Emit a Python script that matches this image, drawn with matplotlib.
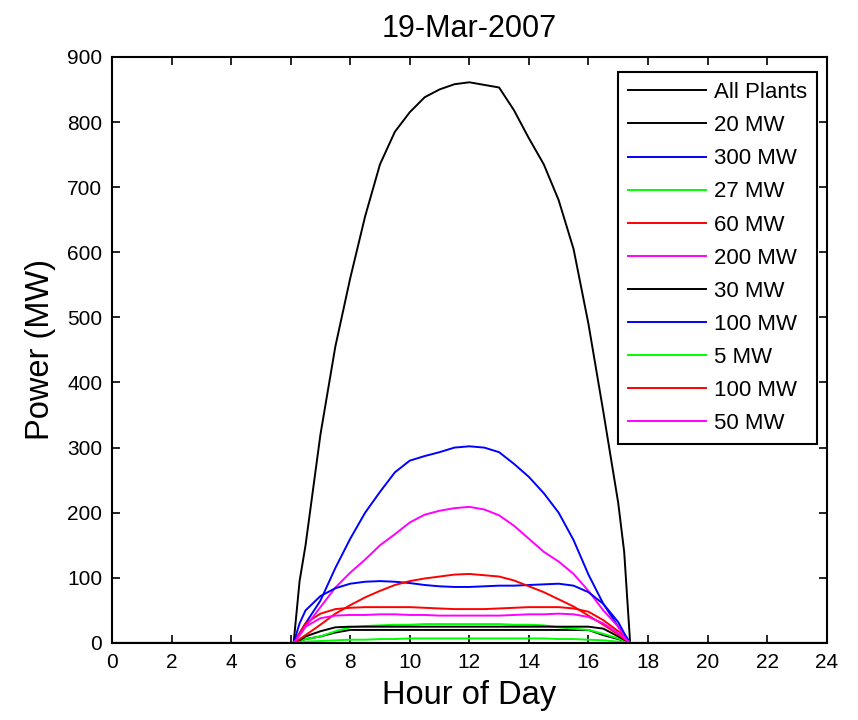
import matplotlib
matplotlib.use('Agg')
import matplotlib.pyplot as plt

plt.rcParams['font.family'] = ['Liberation Sans', 'DejaVu Sans']

hours = [0, 6.1, 6.3, 6.5, 7, 7.5, 8, 8.5, 9, 9.5, 10, 10.5, 11, 11.5, 12,
         12.5, 13, 13.5, 14, 14.5, 15, 15.5, 16, 16.5, 17, 17.2, 17.4, 24]

all_plants = [0, 0, 95, 150, 320, 455, 560, 655, 735, 785, 815, 838, 850, 858, 861,
              857, 853, 818, 775, 735, 680, 605, 490, 355, 215, 140, 0, 0]
p20 = [0, 0, 3, 6, 10, 16, 20, 20, 20, 20, 20, 20, 20, 20, 20,
       20, 20, 20, 20, 20, 20, 20, 20, 12, 6, 3, 0, 0]
p300 = [0, 0, 15, 30, 65, 115, 160, 200, 232, 262, 280, 287, 293, 300, 302,
        300, 293, 275, 255, 230, 200, 158, 105, 60, 25, 12, 0, 0]
p27 = [0, 0, 3, 6, 10, 18, 24, 26, 27, 28, 28, 29, 29, 29, 29,
       29, 29, 28, 28, 27, 24, 22, 20, 14, 7, 3, 0, 0]
p60 = [0, 0, 15, 30, 45, 52, 54, 55, 55, 55, 55, 54, 53, 52, 52,
       52, 53, 54, 55, 55, 55, 53, 48, 35, 18, 9, 0, 0]
p200 = [0, 0, 12, 25, 55, 85, 108, 128, 150, 167, 185, 197, 203, 207, 209,
        205, 196, 180, 160, 140, 125, 106, 80, 50, 25, 12, 0, 0]
p30 = [0, 0, 4, 10, 18, 24, 25, 25, 25, 25, 25, 25, 25, 25, 25,
       25, 25, 25, 25, 25, 25, 25, 25, 22, 10, 5, 0, 0]
p100b = [0, 0, 30, 50, 72, 84, 91, 94, 95, 94, 92, 89, 87, 86, 86,
         87, 88, 88, 89, 90, 91, 88, 78, 60, 32, 15, 0, 0]
p5 = [0, 0, 1, 2, 3, 4, 5, 5, 6, 6, 7, 7, 7, 7, 7,
      7, 7, 7, 7, 7, 6, 6, 5, 4, 2, 1, 0, 0]
p100r = [0, 0, 6, 12, 28, 45, 58, 70, 80, 89, 95, 99, 102, 105, 106,
         104, 102, 96, 87, 78, 67, 56, 42, 28, 13, 6, 0, 0]
p50 = [0, 0, 12, 25, 38, 42, 43, 43, 44, 44, 43, 43, 42, 42, 42,
       42, 42, 43, 44, 44, 45, 44, 40, 30, 15, 8, 0, 0]

series = [all_plants, p20, p300, p27, p60, p200, p30, p100b, p5, p100r, p50]
labels = ['All Plants', '20 MW', '300 MW', '27 MW', '60 MW', '200 MW',
          '30 MW', '100 MW', '5 MW', '100 MW', '50 MW']
colors = ['#000000', '#000000', '#0000ff', '#00ff00', '#ff0000', '#ff00ff',
          '#000000', '#0000ff', '#00ff00', '#ff0000', '#ff00ff']

fig = plt.figure(figsize=(8.58, 7.2), dpi=100)
ax = fig.add_axes([0.1305, 0.107, 0.833, 0.814])

for vals, lab, col in zip(series, labels, colors):
    ax.plot(hours, vals, color=col, lw=1.4, label=lab)

ax.set_xlim(0, 24)
ax.set_ylim(0, 900)
ax.set_xticks(range(0, 25, 2))
ax.set_yticks(range(0, 901, 100))
ax.tick_params(direction='in', top=True, right=True, length=6, width=1.2,
               labelsize=15, pad=7)
for s in ax.spines.values():
    s.set_linewidth(1.5)

ax.set_title('19-Mar-2007', fontsize=22, pad=14)
ax.set_xlabel('Hour of Day', fontsize=23.5, labelpad=6)
ax.set_ylabel('Power (MW)', fontsize=23.5, labelpad=8)

leg = ax.legend(loc='upper right', bbox_to_anchor=(0.987, 0.974), borderaxespad=0,
                fontsize=16, handlelength=3.5, handletextpad=0.36, labelspacing=0.545,
                borderpad=0.45, fancybox=False, edgecolor='black', framealpha=1)
leg.get_frame().set_linewidth(1.5)

fig.savefig('out.png', dpi=100)
